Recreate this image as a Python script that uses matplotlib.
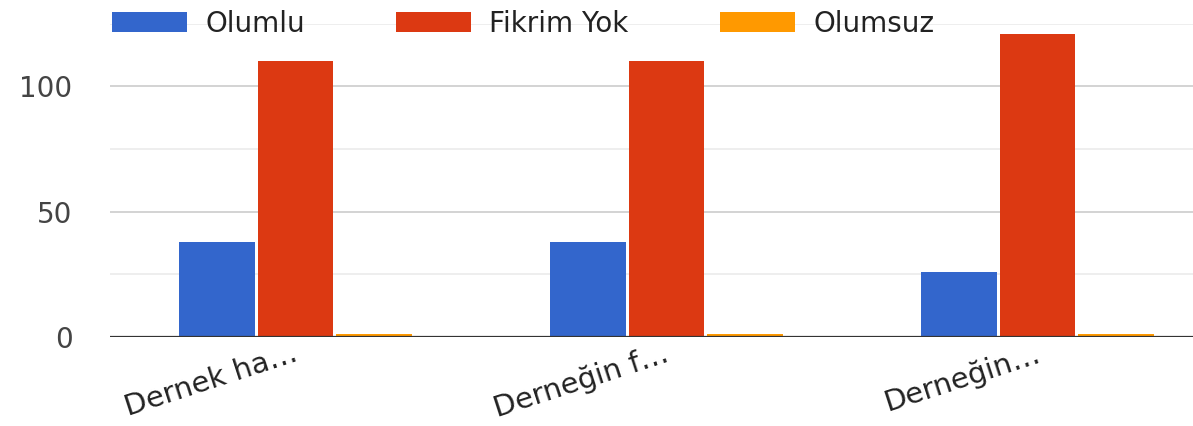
import matplotlib
matplotlib.use("Agg")
import matplotlib.pyplot as plt
import matplotlib.transforms as mtransforms
import numpy as np

categories = ["Dernek ha…", "Derneğin f…", "Derneğin…"]
series_names = ["Olumlu", "Fikrim Yok", "Olumsuz"]
olumlu = [38, 38, 26]
fikrim_yok = [110, 110, 121]
olumsuz = [1, 1, 1]
colors = ["#3366cc", "#dc3912", "#ff9900"]

plt.rcParams['font.family'] = ['DejaVu Sans']

W, H = 1193, 426
fig = plt.figure(figsize=(W / 100, H / 100), dpi=100)
ax = fig.add_axes([110 / W, (H - 337) / H, 1 - 110 / W, (337 - 23.5) / H])

x = np.arange(len(categories))
bw = 0.204
step = 0.211
for i, (vals, name, c) in enumerate(zip([olumlu, fikrim_yok, olumsuz], series_names, colors)):
    ax.bar(x + (i - 1) * step, vals, width=bw, color=c, label=name, zorder=3)

ax.set_ylim(0, 125)
ax.set_xlim(-0.5, -0.5 + (W - 110) / 371)
ax.set_yticks([0, 50, 100])
ax.set_yticks([25, 75, 125], minor=True)
ax.yaxis.grid(True, which='major', color='#cccccc', linewidth=1.2, zorder=0)
ax.yaxis.grid(True, which='minor', color='#ebebeb', linewidth=1.2, zorder=0)
ax.axhline(0, color='#333333', linewidth=1.6, zorder=4)
for s in ax.spines.values():
    s.set_visible(False)
ax.tick_params(axis='y', which='both', length=0, pad=27, labelsize=20, labelcolor='#444444')
ax.tick_params(axis='x', length=0, pad=17, labelsize=21, labelcolor='#222222')
ax.set_xticks(x)
ax.set_xticklabels(categories, rotation=18, ha='right', va='baseline', rotation_mode='anchor')
offset = mtransforms.ScaledTranslation(4 / 100, 0, fig.dpi_scale_trans)
for lab in ax.get_xticklabels():
    lab.set_transform(lab.get_transform() + offset)

leg = ax.legend(loc='center left', bbox_to_anchor=(112 / W, 1 - 24 / H), bbox_transform=fig.transFigure,
                ncol=3, frameon=False, fontsize=20, handlelength=2.7, handleheight=0.72,
                handletextpad=0.65, columnspacing=3.3, borderaxespad=0, borderpad=0)
for t in leg.get_texts():
    t.set_color('#222222')

fig.savefig("out.png", dpi=100)
